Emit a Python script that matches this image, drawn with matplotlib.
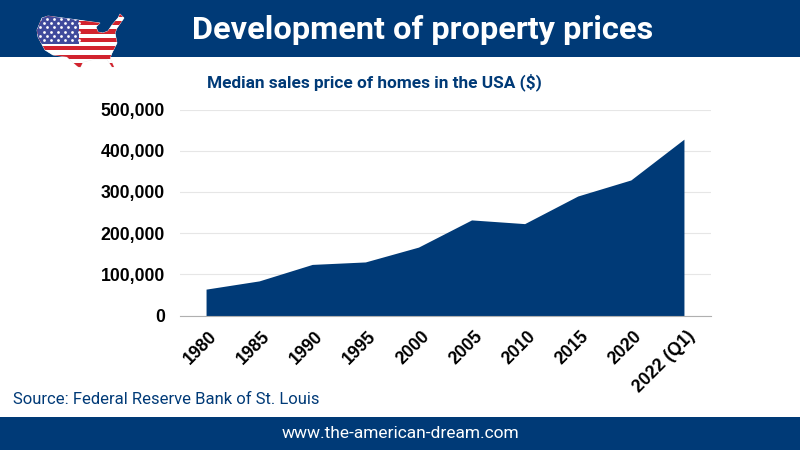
import matplotlib
matplotlib.use("Agg")
import matplotlib.pyplot as plt
from matplotlib.patches import Rectangle, Polygon
from matplotlib.transforms import ScaledTranslation
import numpy as np

narrow = ['Roboto', 'DejaVu Sans']

categories = ['1980', '1985', '1990', '1995', '2000', '2005', '2010', '2015', '2020', '2022 (Q1)']
prices = [64000, 84000, 124000, 130000, 166000, 232000, 223000, 290000, 329000, 428000]
yticks = [0, 100000, 200000, 300000, 400000, 500000]

NAVY = '#003a77'
W, H = 800, 450
fig = plt.figure(figsize=(8, 4.5), dpi=100, facecolor='white')

bg = fig.add_axes([0, 0, 1, 1], zorder=0)
bg.set_xlim(0, W); bg.set_ylim(H, 0); bg.axis('off')
bg.add_patch(Rectangle((0, 0), W, 57, color=NAVY, lw=0))
bg.add_patch(Rectangle((0, 417), W, 33, color=NAVY, lw=0))

# flag-filled USA silhouette
outline = [(42,18),(48,16),(78,20),(100,23),(96,27),(98,32),(103,33),(108,31),(112,25),(118,18),(120,14),(124,18),
           (117,28),(115,33),(117,43),(112,53),(110,58),(114,67),(112,67),(107,59),(95,59),(83,62),(80,68),
           (77,66),(67,57),(53,55),(45,50),(38,37),(37,30)]
clip = Polygon(outline, closed=True, transform=bg.transData, fc='white', ec='#e8e8e8', lw=0.5)
bg.add_patch(clip)
for i in range(13):
    r = bg.add_patch(Rectangle((35, 12.6 + i*4.2), 92, 4.2, color='#d2232e' if i % 2 == 0 else 'white', lw=0))
    r.set_clip_path(clip)
r = bg.add_patch(Rectangle((35, 12), 44, 31.5, color='#3f4a9c', lw=0)); r.set_clip_path(clip)
rows = np.arange(19, 43, 4.2)
for j, yy in enumerate(rows):
    xs = np.arange(40 + (j % 2)*3.5, 79, 7)
    sc = bg.scatter(xs, np.full_like(xs, yy), s=4, color='white', lw=0, zorder=3)
    sc.set_clip_path(clip)

ax = fig.add_axes([179.5/W, 1-315.5/H, 531/W, 206/H], zorder=1)
ax.patch.set_alpha(0)
x = np.arange(len(categories))
ax.fill_between(x, prices, 0, color=NAVY, lw=0, zorder=2)
ax.set_xlim(-0.5, len(categories)-0.5)
ax.set_ylim(0, 500000)
ax.set_yticks(yticks, [f'{v:,}' for v in yticks])
ax.set_xticks(x, categories, rotation=45, ha='right', rotation_mode='anchor')
ax.grid(axis='y', color='#e6e6e6', lw=0.8, zorder=0)
ax.set_axisbelow(True)
for s in ['top', 'left', 'right']:
    ax.spines[s].set_visible(False)
ax.spines['bottom'].set_color('#b0b0b0')
ax.tick_params(length=0)
for t in ax.get_xticklabels() + ax.get_yticklabels():
    t.set_fontfamily('Liberation Sans'); t.set_fontweight('bold'); t.set_fontsize(12.7); t.set_color('black')
ax.tick_params(axis='y', pad=10.5)
ax.tick_params(axis='x', pad=9)
shift = ScaledTranslation(2.5/100, 0, fig.dpi_scale_trans)
for t in ax.get_xticklabels():
    t.set_transform(t.get_transform() + shift)

bg.text(423, 30, 'Development of property prices', color='white', fontsize=23.4, fontweight='bold',
        family=narrow, ha='center', va='center')
bg.text(374, 82, 'Median sales price of homes in the USA ($)', color=NAVY, fontsize=12.4, fontweight='bold',
        family=narrow, ha='center', va='center')
bg.text(13, 400, 'Source: Federal Reserve Bank of St. Louis', color=NAVY, fontsize=12,
        family=narrow, ha='left', va='center')
bg.text(400, 434, 'www.the-american-dream.com', color='white', fontsize=12.5,
        family=narrow, ha='center', va='center')

fig.savefig('out.png', dpi=100)
